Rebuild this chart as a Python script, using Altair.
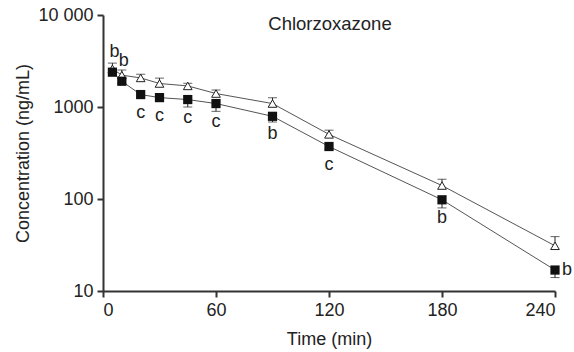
import altair as alt
import pandas as pd

time = [5, 10, 20, 30, 45, 60, 90, 120, 180, 240]
open_vals = [2600, 2220, 2070, 1800, 1695, 1400, 1090, 504, 140, 31]
open_err_hi = [3000, 2530, 2270, 2060, 1810, 1530, 1260, 560, 164, 39]
filled_vals = [2390, 1905, 1365, 1265, 1205, 1090, 792, 372, 98, 16.9]
filled_err_lo = [2250, 1800, 1300, 1200, 1000, 897, 687, 345, 80, 14]
labels = ["b", "b", "c", "c", "c", "c", "b", "c", "b", "b"]
label_pos = ["above", "above", "below", "below", "below", "below", "below", "below", "below", "right"]

rows = []
for i, t in enumerate(time):
    rows.append(dict(time=t, value=open_vals[i], err=open_err_hi[i], series="open", label="", pos=""))
    rows.append(dict(time=t, value=filled_vals[i], err=filled_err_lo[i], series="filled",
                     label=labels[i], pos=label_pos[i]))
df = pd.DataFrame(rows)

xs = alt.X("time:Q", scale=alt.Scale(domain=[0, 240], nice=False),
           axis=alt.Axis(values=[0, 60, 120, 180, 240], title="Time (min)", titlePadding=11))
ys = alt.Y("value:Q", scale=alt.Scale(type="log", domain=[10, 10000], nice=False),
           axis=alt.Axis(values=[10, 100, 1000, 10000], title="Concentration (ng/mL)",
                         labelExpr="datum.value == 10000 ? '10 000' : format(datum.value, 'd')",
                         titlePadding=5))

base = alt.Chart(df)

lines = base.mark_line(color="#555555", strokeWidth=1).encode(
    x=xs, y=ys, detail="series:N")

err_rule = base.mark_rule(color="#222222", strokeWidth=1).encode(
    x="time:Q", y="value:Q", y2="err:Q")
err_cap = base.mark_tick(color="#222222", orient="horizontal", size=9, thickness=1).encode(
    x="time:Q", y="err:Q")

tri = base.transform_filter("datum.series == 'open'").mark_point(
    shape="triangle-up", filled=True, fill="white", stroke="#222222", strokeWidth=1, size=75, opacity=1
).encode(x="time:Q", y="value:Q")

sq = base.transform_filter("datum.series == 'filled'").mark_square(
    color="#111111", size=85, opacity=1
).encode(x="time:Q", y="value:Q")

txt_style = dict(font="Liberation Sans", fontSize=18, color="#222222", baseline="middle", align="center")
lab_above = base.transform_filter("datum.pos == 'above'").mark_text(dy=-20, dx=2, **txt_style).encode(
    x="time:Q", y="value:Q", text="label:N")
lab_below = base.transform_filter("datum.pos == 'below'").mark_text(dy=18, **txt_style).encode(
    x="time:Q", y="value:Q", text="label:N")
lab_right = base.transform_filter("datum.pos == 'right'").mark_text(dx=12, **txt_style).encode(
    x="time:Q", y="value:Q", text="label:N")

title = alt.Chart(pd.DataFrame({"t": ["Chlorzoxazone"]})).mark_text(
    font="Liberation Sans", fontSize=18.5, color="#222222", align="center", baseline="middle"
).encode(x=alt.value(227), y=alt.value(9), text="t:N")

chart = alt.layer(lines, err_rule, err_cap, tri, sq, lab_above, lab_below, lab_right, title).properties(
    width=452, height=276,
    autosize=alt.AutoSizeParams(type="none"),
    padding={"left": 103, "top": 15, "right": 19, "bottom": 61},
).configure_view(stroke=None).configure_axis(
    grid=False, domainColor="#333333", domainWidth=2, tickColor="#333333", tickWidth=2, tickSize=6,
    labelFont="Liberation Sans", labelFontSize=18, labelColor="#222222",
    titleFont="Liberation Sans", titleFontSize=18, titleFontWeight="normal", titleColor="#222222",
    labelPadding=4
).configure_axisY(labelPadding=4)

chart.save("out.html", embed_options={"renderer": "svg", "actions": False})
